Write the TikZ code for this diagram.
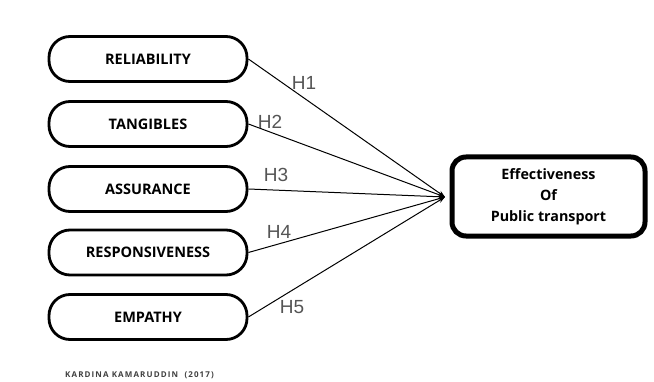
\documentclass[tikz,border=0pt]{standalone}
\usepackage{fontspec}
\setmainfont{Open Sans}
\newfontfamily\labelfont{Liberation Sans}
\newfontfamily\notefont[LetterSpace=14]{Open Sans}
\usetikzlibrary{arrows.meta}
\definecolor{hgray}{HTML}{555555}
\tikzset{
  x=1pt, y=1pt,
  factor/.style={draw=black, line width=2.8pt, rounded corners=21pt,
    minimum width=198pt, minimum height=45pt, inner sep=0pt,
    font=\bfseries\fontsize{14.5}{16}\selectfont},
  outcome/.style={draw=black, line width=5pt, rounded corners=14pt,
    minimum width=193pt, minimum height=79pt, inner sep=0pt, align=center,
    font=\bfseries\fontsize{14.3}{21}\selectfont},
  hyp/.style={text=hgray, font=\labelfont\fontsize{19}{20}\selectfont, inner sep=0pt},
  link/.style={line width=1pt, -{Stealth[length=7pt,width=5pt]}},
}
\begin{document}
\begin{tikzpicture}
\useasboundingbox (0,0) rectangle (654,381);
\fill[white] (0,0) rectangle (654,381);

% factor boxes
\node[factor] (rel)  at (148,322)   {RELIABILITY};
\node[factor] (tan)  at (148,257)   {TANGIBLES};
\node[factor] (ass)  at (148,192)   {ASSURANCE};
\node[factor] (resp) at (148,128.5) {RESPONSIVENESS};
\node[factor] (emp)  at (148,64)    {EMPATHY};

% outcome box
\node[outcome] (eff) at (548.5,184.5) {Effectiveness\\Of\\Public transport};
\coordinate (tip) at (445,184);

% hypothesis links
\draw[link] (rel.east)  -- (tip);
\draw[link] (tan.east)  -- (tip);
\draw[link] (ass.east)  -- (tip);
\draw[link] (resp.east) -- (tip);
\draw[link] (emp.east)  -- (tip);

\node[hyp] (h1) at (304,298) {H1};
\node[hyp] (h2) at (270,259) {H2};
\node[hyp] (h3) at (276,206) {H3};
\node[hyp] (h4) at (279,149) {H4};
\node[hyp] (h5) at (292,74)  {H5};

% source note
\node[anchor=west, text=black!75, font=\notefont\bfseries\fontsize{8}{9}\selectfont, inner sep=0pt]
  (src) at (65,6) {KARDINA KAMARUDDIN\ \ (2017)};
\end{tikzpicture}
\end{document}
